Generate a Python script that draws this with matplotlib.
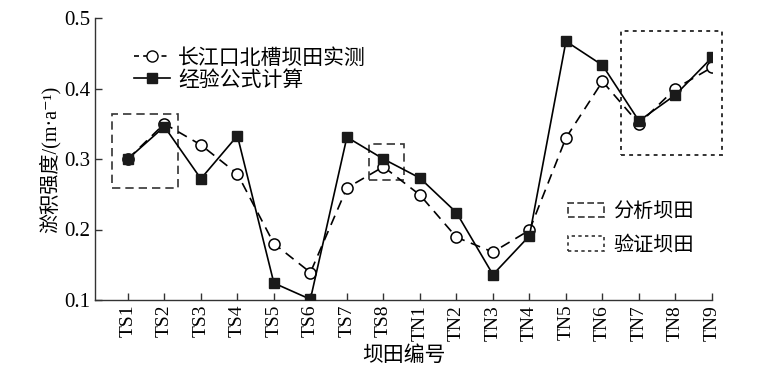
import matplotlib
matplotlib.use("Agg")
import matplotlib.pyplot as plt
from matplotlib.patches import Rectangle, Patch
from matplotlib.lines import Line2D

categories = ["TS1", "TS2", "TS3", "TS4", "TS5", "TS6", "TS7", "TS8",
              "TN1", "TN2", "TN3", "TN4", "TN5", "TN6", "TN7", "TN8", "TN9"]
measured = [0.30, 0.35, 0.32, 0.279, 0.18, 0.139, 0.259, 0.289,
            0.249, 0.189, 0.168, 0.199, 0.33, 0.41, 0.35, 0.40, 0.43]
computed = [0.30, 0.346, 0.272, 0.333, 0.124, 0.101, 0.331, 0.30,
            0.273, 0.224, 0.136, 0.191, 0.467, 0.433, 0.354, 0.391, 0.444]
yticks = [0.1, 0.2, 0.3, 0.4, 0.5]
ytick_labels = ["0.1", "0.2", "0.3", "0.4", "0.5"]

serif = ["Liberation Serif", "Noto Sans CJK SC", "DejaVu Serif"]
cjk = ["Noto Sans CJK SC", "Liberation Serif", "DejaVu Serif"]

fig = plt.figure(figsize=(7.69, 3.79), dpi=100)
ax = fig.add_axes([95/769, 79/379, 617/769, 282/379])

x = list(range(len(categories)))
ax.plot(x, measured, color="black", lw=1.2, ls=(0, (6, 4)), marker="o",
        markersize=8, markerfacecolor="white", markeredgecolor="black",
        markeredgewidth=1.1, zorder=3)
ax.plot(x, computed, color="black", lw=1.2, ls="-", marker="s",
        markersize=7, markerfacecolor="#1a1a1a", markeredgecolor="#1a1a1a",
        zorder=4)

ax.set_xlim(-0.9, 16)
ax.set_ylim(0.1, 0.5)
ax.set_xticks(x)
ax.set_xticklabels(categories, rotation=90, fontfamily=serif, fontsize=14)
ax.set_yticks(yticks)
ax.set_yticklabels(ytick_labels, fontfamily=serif, fontsize=15)
ax.tick_params(direction="in", length=5, width=1, color="#333333")
for s in ["top", "right"]:
    ax.spines[s].set_visible(False)
for s in ["left", "bottom"]:
    ax.spines[s].set_color("#333333")
    ax.spines[s].set_linewidth(1)

ax.set_xlabel("坝田编号", fontfamily=cjk, fontsize=15, labelpad=2)
ax.set_ylabel("淤积强度/(m·a⁻¹)", fontfamily=serif, fontsize=14.5, labelpad=2.5)

# highlight boxes
ax.add_patch(Rectangle((-0.44, 0.259), 1.81, 0.105, fill=False,
                       ec="#333333", lw=1.2, ls=(0, (5, 3))))
ax.add_patch(Rectangle((6.6, 0.270), 0.96, 0.051, fill=False,
                       ec="#333333", lw=1.2, ls=(0, (5, 3))))
ax.add_patch(Rectangle((13.5, 0.306), 2.78, 0.176, fill=False,
                       ec="#333333", lw=1.4, ls=(0, (2, 2.2)), clip_on=False))

h1 = [Line2D([], [], color="black", lw=1.2, ls=(0, (3, 2.5)), marker="o",
             markersize=8, markerfacecolor="white", markeredgecolor="black"),
      Line2D([], [], color="black", lw=1.2, marker="s", markersize=7,
             markerfacecolor="#1a1a1a", markeredgecolor="#1a1a1a")]
leg1 = ax.legend(h1, ["长江口北槽坝田实测", "经验公式计算"], loc="upper left",
                 bbox_to_anchor=(0.033, 0.965), frameon=False, handlelength=1.7,
                 handletextpad=0.4, labelspacing=0.0,
                 prop={"family": cjk, "size": 15})
ax.add_artist(leg1)

h2 = [Patch(facecolor="none", edgecolor="#333333", lw=1.2, ls=(0, (4, 2))),
      Patch(facecolor="none", edgecolor="#333333", lw=1.2, ls=(0, (2, 2)))]
ax.legend(h2, ["分析坝田", "验证坝田"], loc="upper left",
          bbox_to_anchor=(0.737, 0.415), frameon=False, handlelength=1.8,
          handleheight=0.75, handletextpad=0.45, labelspacing=0.6,
          prop={"family": cjk, "size": 14.5})

fig.savefig("out.png", dpi=100)
